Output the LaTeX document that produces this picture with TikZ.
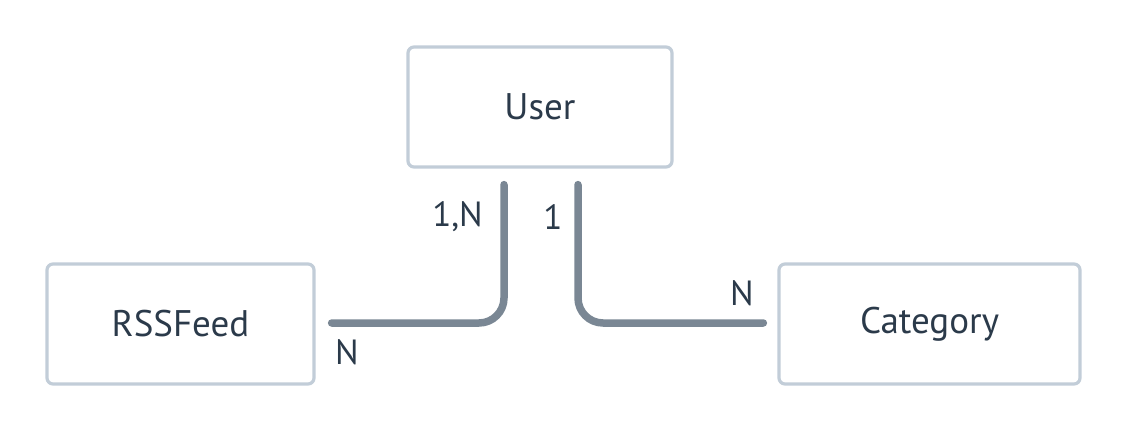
\documentclass[tikz,border=0pt]{standalone}
\usepackage{fontspec}
\setmainfont{PT Sans}
\usetikzlibrary{positioning}

\definecolor{boxline}{HTML}{C2CDD8}
\definecolor{relline}{HTML}{7A8794}
\definecolor{txt}{HTML}{2B3A4A}

\tikzset{
  entity/.style={draw=boxline, line width=3.2pt, rounded corners=6pt, fill=white,
    minimum height=120pt, text=txt, font=\fontsize{37}{42}\selectfont},
  rel/.style={draw=relline, line width=7.5pt, line cap=round, rounded corners=25pt},
  card/.style={text=txt, font=\fontsize{35}{40}\selectfont, inner sep=0pt}
}

\begin{document}
\begin{tikzpicture}[x=1pt, y=1pt]
  \useasboundingbox (0,0) rectangle (1128,432);
  % entities
  \node[entity, minimum width=264pt] (user) at (540,325) {User};
  \node[entity, minimum width=267pt] (feed) at (180.5,108) {RSSFeed};
  \node[entity, minimum width=301pt] (cat) at (929.5,108) {Category};
  % relations
  \coordinate (uleft) at ([xshift=-36pt, yshift=-16pt]user.south);
  \coordinate (uright) at ([xshift=38pt, yshift=-16pt]user.south);
  \coordinate (fend) at ([xshift=16pt, yshift=1pt]feed.east);
  \coordinate (cend) at ([xshift=-14pt, yshift=1pt]cat.west);
  \draw[rel] (uleft) |- (fend);
  \draw[rel] (uright) |- (cend);
  % cardinalities
  \node[card, anchor=east] (c1) at (483,215) {1,N};
  \node[card] (c2) at (553,215) {1};
  \node[card] (c3) at (347,80) {N};
  \node[card] (c4) at (742,139) {N};
\end{tikzpicture}
\end{document}
